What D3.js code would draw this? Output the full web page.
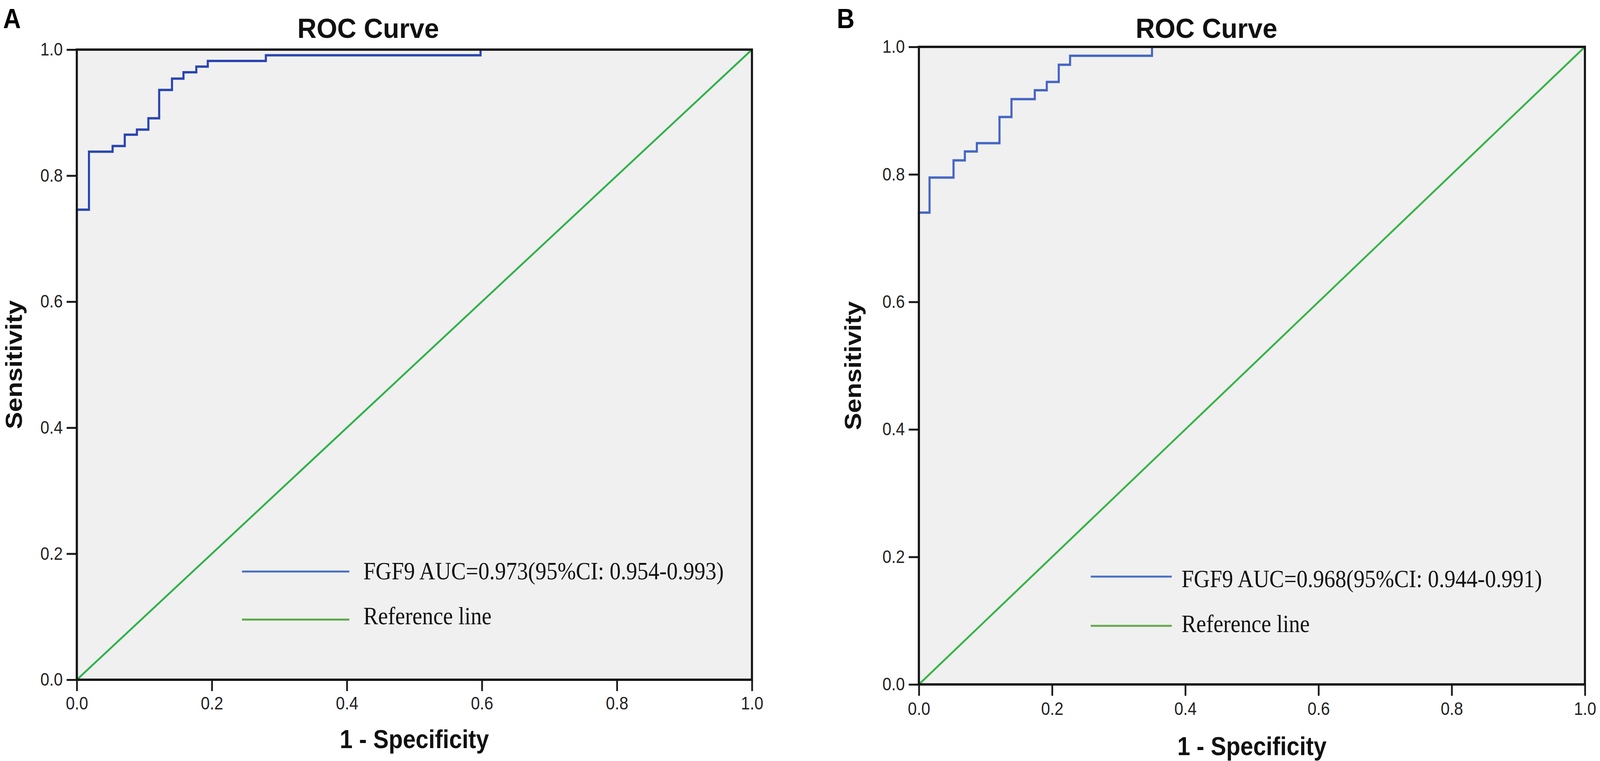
<!DOCTYPE html>
<html>
<head>
<meta charset="utf-8">
<script src="https://cdn.jsdelivr.net/npm/d3@7"></script>
<style>
  html, body { margin: 0; padding: 0; background: #fff; overflow: hidden; }
  svg { display: block; }
</style>
</head>
<body>
<div id="chart"></div>
<script>
const width = 4562;
const height = 1948;

// ticks shared by both panels
const tickValues = [0, 0.2, 0.4, 0.6, 0.8, 1.0];
const refLine = [0, 1];

// panel A: ROC corners (1 - specificity, sensitivity)
const fprA = [0, 0, 0.018, 0.053, 0.071, 0.089, 0.106, 0.122, 0.141, 0.158, 0.177, 0.194, 0.280, 0.598, 1.0];
const tprA = [0, 0.746, 0.838, 0.847, 0.865, 0.873, 0.891, 0.936, 0.954, 0.964, 0.973, 0.982, 0.991, 1.0, 1.0];
const legendA = ["FGF9 AUC=0.973(95%CI: 0.954-0.993)", "Reference line"];

// panel B
const fprB = [0, 0, 0.016, 0.052, 0.069, 0.087, 0.121, 0.139, 0.174, 0.192, 0.210, 0.227, 0.350, 1.0];
const tprB = [0, 0.740, 0.795, 0.822, 0.836, 0.849, 0.890, 0.918, 0.932, 0.945, 0.972, 0.986, 1.0, 1.0];
const legendB = ["FGF9 AUC=0.968(95%CI: 0.944-0.991)", "Reference line"];

const panels = [
    {
        letter: "A", letterX: 9, fpr: fprA, tpr: tprA, legend: legendA,
        left: 219, right: 2144, top: 127, bottom: 1740,
        titleX: 1050, xLabelY: 1915, yLabelX: 62,
        curveColor: "#2a45b0", refColor: "#2fb24a",
        legLine: [690, 996], legY: [1463, 1586], legTextX: 1036, legBase: [1483, 1598],
        legColors: ["#4a70c4", "#5aa846"], tickPad: 14
    },
    {
        letter: "B", letterX: 2386, fpr: fprB, tpr: tprB, legend: legendB,
        left: 2620, right: 4519, top: 120, bottom: 1752,
        titleX: 3440, xLabelY: 1933, yLabelX: 2455,
        curveColor: "#4566c4", refColor: "#36b446",
        legLine: [3110, 3341], legY: [1476, 1602], legTextX: 3369, legBase: [1503, 1618],
        legColors: ["#4a6fc6", "#66a84e"], tickPad: 16
    }
];

// the figure is stretched to fill the window exactly
var svg = d3.select("#chart")
    .append("svg")
    .attr("viewBox", "0 0 " + width + " " + height)
    .attr("preserveAspectRatio", "none")
    .style("width", "100vw")
    .style("height", "100vh");

svg.append("rect")
    .attr("width", width)
    .attr("height", height)
    .attr("fill", "#fff");

function drawPanel(p) {
    let x = d3.scaleLinear().domain([0, 1]).range([p.left, p.right]);
    let y = d3.scaleLinear().domain([0, 1]).range([p.bottom, p.top]);

    // panel letter
    svg.append("text")
        .attr("x", p.letterX)
        .attr("y", 72)
        .attr("font-family", "Liberation Sans, Arial, sans-serif")
        .attr("font-weight", "bold")
        .attr("font-size", 70)
        .text(p.letter);

    // title
    svg.append("text")
        .attr("x", p.titleX)
        .attr("y", 97)
        .attr("text-anchor", "middle")
        .attr("font-family", "Liberation Sans, Arial, sans-serif")
        .attr("font-weight", "bold")
        .attr("font-size", 70)
        .attr("textLength", 404)
        .attr("lengthAdjust", "spacingAndGlyphs")
        .attr("fill", "#111")
        .text("ROC Curve");

    // plot background
    svg.append("rect")
        .attr("x", p.left)
        .attr("y", p.top)
        .attr("width", p.right - p.left)
        .attr("height", p.bottom - p.top)
        .attr("fill", "#f0f0f0");

    // diagonal reference line
    svg.append("line")
        .attr("x1", x(refLine[0])).attr("y1", y(refLine[0]))
        .attr("x2", x(refLine[1])).attr("y2", y(refLine[1]))
        .attr("stroke", p.refColor)
        .attr("stroke-width", 5);

    // ROC step curve
    let pts = p.fpr.map((f, i) => [f, p.tpr[i]]);
    let line = d3.line()
        .x(d => x(d[0]))
        .y(d => y(d[1]))
        .curve(d3.curveStepAfter);
    svg.append("path")
        .datum(pts)
        .attr("d", line)
        .attr("fill", "none")
        .attr("stroke", p.curveColor)
        .attr("stroke-width", 6);

    // axes
    let fmt = d3.format(".1f");
    let gx = svg.append("g")
        .attr("transform", "translate(0," + p.bottom + ")")
        .call(d3.axisBottom(x).tickValues(tickValues).tickFormat(fmt).tickSize(29).tickPadding(p.tickPad));
    let gy = svg.append("g")
        .attr("transform", "translate(" + p.left + ",0)")
        .call(d3.axisLeft(y).tickValues(tickValues).tickFormat(fmt).tickSize(29).tickPadding(11));
    for (let g of [gx, gy]) {
        g.select(".domain").remove();
        g.selectAll(".tick line").attr("stroke", "#1a1a1a").attr("stroke-width", 5);
        g.selectAll(".tick text")
            .attr("fill", "#222")
            .attr("font-family", "Liberation Sans, Arial, sans-serif")
            .attr("font-size", 46);
    }

    // frame
    svg.append("rect")
        .attr("x", p.left)
        .attr("y", p.top)
        .attr("width", p.right - p.left)
        .attr("height", p.bottom - p.top)
        .attr("fill", "none")
        .attr("stroke", "#151515")
        .attr("stroke-width", 6);

    // axis titles
    svg.append("text")
        .attr("x", (p.left + p.right) / 2)
        .attr("y", p.xLabelY)
        .attr("text-anchor", "middle")
        .attr("font-family", "Liberation Sans, Arial, sans-serif")
        .attr("font-weight", "bold")
        .attr("font-size", 66)
        .attr("fill", "#111")
        .text("1 - Specificity");

    svg.append("text")
        .attr("transform", "translate(" + p.yLabelX + "," + (p.top + p.bottom) / 2 + ")rotate(-90)")
        .attr("text-anchor", "middle")
        .attr("font-family", "Liberation Sans, Arial, sans-serif")
        .attr("font-weight", "bold")
        .attr("font-size", 66)
        .attr("fill", "#111")
        .text("Sensitivity");

    // legend
    p.legend.forEach(function (label, i) {
        svg.append("line")
            .attr("x1", p.legLine[0]).attr("x2", p.legLine[1])
            .attr("y1", p.legY[i]).attr("y2", p.legY[i])
            .attr("stroke", p.legColors[i])
            .attr("stroke-width", 5);
        svg.append("text")
            .attr("x", p.legTextX)
            .attr("y", p.legBase[i])
            .attr("font-family", "Liberation Serif, Times New Roman, serif")
            .attr("font-size", 63)
            .attr("fill", "#111")
            .text(label);
    });
}

for (let p of panels) drawPanel(p);
</script>
</body>
</html>
